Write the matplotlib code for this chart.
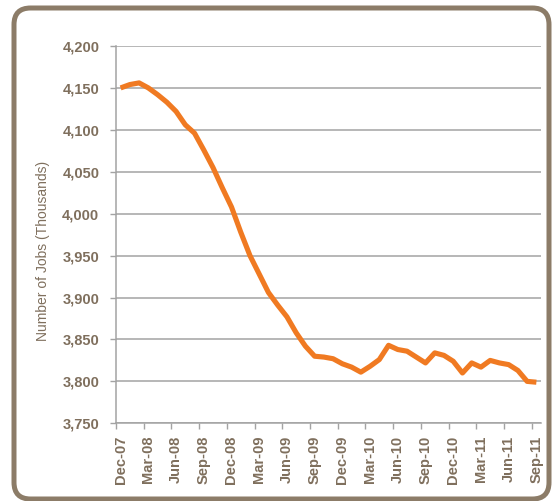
import matplotlib
matplotlib.use("Agg")
import matplotlib.pyplot as plt
from matplotlib.patches import FancyBboxPatch

months = ["Dec-07", "Jan-08", "Feb-08", "Mar-08", "Apr-08", "May-08", "Jun-08", "Jul-08",
          "Aug-08", "Sep-08", "Oct-08", "Nov-08", "Dec-08", "Jan-09", "Feb-09", "Mar-09",
          "Apr-09", "May-09", "Jun-09", "Jul-09", "Aug-09", "Sep-09", "Oct-09", "Nov-09",
          "Dec-09", "Jan-10", "Feb-10", "Mar-10", "Apr-10", "May-10", "Jun-10", "Jul-10",
          "Aug-10", "Sep-10", "Oct-10", "Nov-10", "Dec-10", "Jan-11", "Feb-11", "Mar-11",
          "Apr-11", "May-11", "Jun-11", "Jul-11", "Aug-11", "Sep-11"]
jobs = [4150, 4154, 4156, 4150, 4142, 4133, 4122, 4106,
        4096, 4076, 4055, 4031, 4008, 3978, 3950, 3928,
        3906, 3891, 3877, 3858, 3842, 3830, 3829, 3827,
        3821, 3817, 3811, 3818, 3826, 3843, 3838, 3836,
        3829, 3822, 3834, 3831, 3824, 3810, 3822, 3817,
        3825, 3822, 3820, 3813, 3800, 3799]
y_ticks = [3750, 3800, 3850, 3900, 3950, 4000, 4050, 4100, 4150, 4200]

text_color = "#7F6F5D"
grid_color = "#A3A3A3"
line_color = "#F07A22"
border_color = "#8C7C68"

W, H = 553, 501
fig = plt.figure(figsize=(W / 100, H / 100), dpi=100)
fig.patch.set_facecolor("white")

# rounded border
bx0, by0, bx1, by1 = 14, 8, 549, 499
border = FancyBboxPatch((bx0 / W, 1 - by1 / H), (bx1 - bx0) / W, (by1 - by0) / H,
                        boxstyle="round,pad=0,rounding_size=0.03",
                        transform=fig.transFigure, fill=False,
                        edgecolor=border_color, linewidth=3.6, zorder=0,
                        mutation_aspect=W / H)
fig.patches.append(border)

left, right, top, bottom = 116, 541, 46, 423.3
ax = fig.add_axes([left / W, 1 - bottom / H, (right - left) / W, (bottom - top) / H])
ax.set_facecolor("none")

x = list(range(len(jobs)))
ax.plot(x, jobs, color=line_color, linewidth=3.7, solid_joinstyle="round",
        solid_capstyle="butt", zorder=3)

ax.set_xlim(-0.5, len(jobs) - 0.5)
ax.set_ylim(3750, 4200)

ax.set_yticks(y_ticks)
ax.set_yticklabels([f"{v:,}" for v in y_ticks])
ax.yaxis.grid(True, color=grid_color, linewidth=1.1)
ax.set_axisbelow(True)

label_idx = list(range(0, len(jobs), 3))
ax.set_xticks([i - 0.5 for i in label_idx])
ax.set_xticklabels([])
ax.set_xticks(label_idx, minor=True)
ax.set_xticklabels([months[i] for i in label_idx], minor=True, rotation=90)
ax.tick_params(axis="x", which="minor", length=0, pad=9)
ax.tick_params(axis="x", which="major", length=4, color=grid_color, width=1)
ax.tick_params(axis="y", length=4, color=grid_color, width=1, pad=8)

for lab in ax.get_xticklabels(minor=True) + ax.get_yticklabels():
    lab.set_fontfamily("Liberation Sans")
    lab.set_fontweight("bold")
    lab.set_fontsize(10.5)
    lab.set_color(text_color)

for s in ["top", "right"]:
    ax.spines[s].set_visible(False)
ax.spines["left"].set_color(grid_color)
ax.spines["bottom"].set_color(grid_color)
ax.spines["left"].set_linewidth(1.1)
ax.spines["bottom"].set_linewidth(1.1)

fig.text(43 / W, 1 - 251 / H, "Number of Jobs (Thousands)", rotation=90,
         ha="center", va="center", fontsize=10, color=text_color,
         family="Liberation Sans")

fig.savefig("out.png", dpi=100)
